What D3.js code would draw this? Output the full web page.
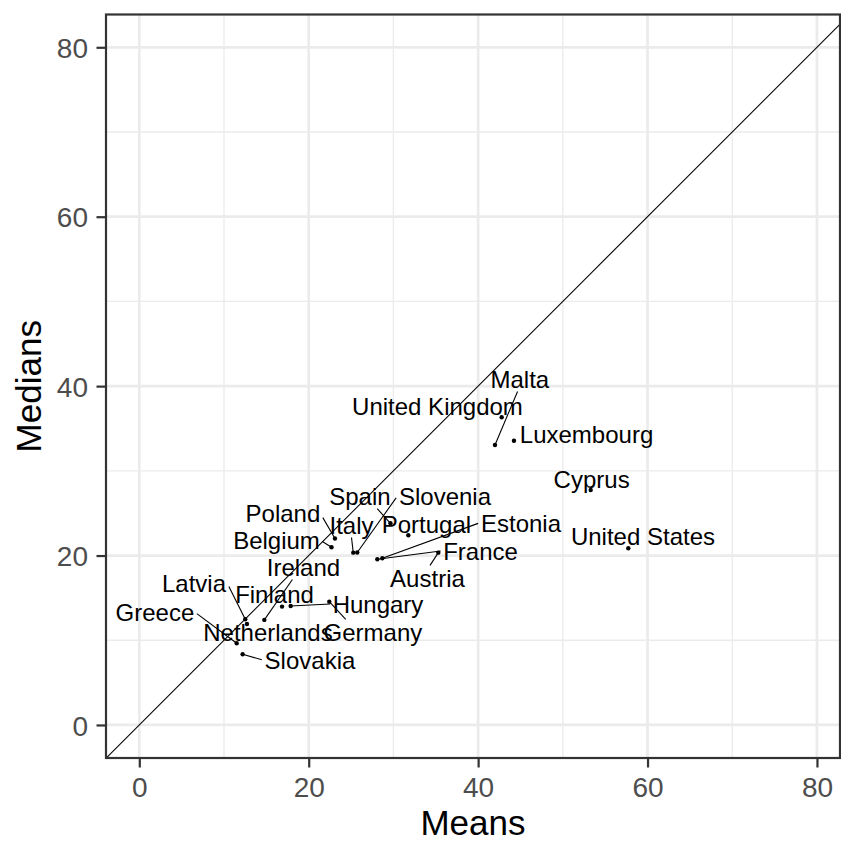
<!DOCTYPE html>
<html><head><meta charset="utf-8">
<script src="https://cdn.jsdelivr.net/npm/d3@7"></script>
<style>body{margin:0;background:#fff}</style>
</head><body><svg id="c" width="841" height="844"></svg>
<script>
// ---- data ----
const countries = ["Malta","United Kingdom","Luxembourg","Cyprus","United States","Spain","Slovenia","Italy","Poland","Belgium","Portugal","Estonia","France","Austria","Ireland","Latvia","Netherlands","Greece","Slovakia","Finland","Hungary","Germany"];
const means   = [41.99, 42.78, 44.23, 53.29, 57.73, 29.65, 25.73, 25.26, 23.10, 22.69, 31.76, 28.69, 28.10, 35.30, 14.76, 12.51, 12.71, 11.50, 12.20, 16.85, 17.87, 22.43];
const medians = [33.05, 36.32, 33.56, 27.74, 20.86, 23.81, 20.36, 20.34, 22.02, 20.98, 22.39, 19.68, 19.56, 20.34, 12.40, 12.48, 11.92,  9.64,  8.35, 13.97, 14.05, 14.56];
// repelled label anchor positions (data units)
const labelX  = [44.93, 35.20, 52.80, 53.40, 59.46, 26.05, 36.09, 25.05, 16.96, 16.20, 33.90, 45.06, 40.28, 34.02, 19.38,  6.46, 15.19,  1.85, 20.15, 15.96, 28.18, 27.58];
const labelY  = [40.85, 37.66, 34.35, 29.04, 22.30, 27.03, 27.03, 23.61, 25.03, 21.84, 23.73, 23.85, 20.54, 17.35, 18.65, 16.76, 10.98, 13.34,  7.67, 15.46, 14.28, 10.98];
const majorTicks = [0, 20, 40, 60, 80];
const minorTicks = [10, 30, 50, 70];
const xTitle = "Means", yTitle = "Medians";

// ---- layout ----
const svg = d3.select("#c");
const P = {l:106, r:840, t:14.5, b:758};
const x = d3.scaleLinear().domain([-3.93, 82.72]).range([P.l, P.r]);
const y = d3.scaleLinear().domain([-3.9, 83.87]).range([P.b, P.t]);
const font = "Arial, 'Liberation Sans', sans-serif";

svg.append("defs").append("clipPath").attr("id","pc")
  .append("rect").attr("x",P.l).attr("y",P.t).attr("width",P.r-P.l).attr("height",P.b-P.t);

const grid = svg.append("g");
minorTicks.forEach(v=>{
  grid.append("line").attr("x1",x(v)).attr("x2",x(v)).attr("y1",P.t).attr("y2",P.b).attr("stroke","#EBEBEB").attr("stroke-width",1.3);
  grid.append("line").attr("y1",y(v)).attr("y2",y(v)).attr("x1",P.l).attr("x2",P.r).attr("stroke","#EBEBEB").attr("stroke-width",1.3);
});
majorTicks.forEach(v=>{
  grid.append("line").attr("x1",x(v)).attr("x2",x(v)).attr("y1",P.t).attr("y2",P.b).attr("stroke","#EBEBEB").attr("stroke-width",2.7);
  grid.append("line").attr("y1",y(v)).attr("y2",y(v)).attr("x1",P.l).attr("x2",P.r).attr("stroke","#EBEBEB").attr("stroke-width",2.7);
});

// diagonal y = x
const dom = [-10, 100];
svg.append("line").attr("clip-path","url(#pc)")
  .attr("x1",x(dom[0])).attr("y1",y(dom[0])).attr("x2",x(dom[1])).attr("y2",y(dom[1]))
  .attr("stroke","#000").attr("stroke-width",1.1);

// axes
const xAxis = svg.append("g").attr("transform",`translate(0,${P.b})`)
  .call(d3.axisBottom(x).tickValues(majorTicks).tickSize(9.5).tickPadding(6));
const yAxis = svg.append("g").attr("transform",`translate(${P.l},0)`)
  .call(d3.axisLeft(y).tickValues(majorTicks).tickSize(9.5).tickPadding(6));
[xAxis,yAxis].forEach(a=>{
  a.select(".domain").remove();
  a.selectAll(".tick line").attr("stroke","#333333").attr("stroke-width",2.2);
  a.selectAll(".tick text").attr("fill","#4D4D4D").style("font-family",font).style("font-size","28px");
});
xAxis.selectAll(".tick text").attr("dy",null).attr("y",39);
yAxis.selectAll(".tick text").attr("dy","0.36em").attr("x",-18);

// panel border
svg.append("rect").attr("x",P.l).attr("y",P.t).attr("width",P.r-P.l).attr("height",P.b-P.t)
  .attr("fill","none").attr("stroke","#333333").attr("stroke-width",2.2);

// titles
svg.append("text").attr("x",(P.l+P.r)/2).attr("y",835).attr("text-anchor","middle")
  .style("font-family",font).style("font-size","35px").attr("fill","#000").text(xTitle);
svg.append("text").attr("transform",`translate(40.5,${(P.t+P.b)/2}) rotate(-90)`).attr("text-anchor","middle")
  .style("font-family",font).style("font-size","35px").attr("fill","#000").text(yTitle);

// labels, segments, points
const fs = 24;
const data = countries.map((c,i)=>({c, mx:means[i], md:medians[i], lx:labelX[i], ly:labelY[i]}));
const segG = svg.append("g").attr("clip-path","url(#pc)");
const ptG = svg.append("g").attr("clip-path","url(#pc)");
const lbG = svg.append("g").attr("clip-path","url(#pc)");

const labels = lbG.selectAll("text").data(data).join("text")
  .attr("x",d=>x(d.lx)).attr("y",d=>y(d.ly)).attr("dy","0.36em").attr("text-anchor","middle")
  .style("font-family",font).style("font-size",fs+"px").attr("fill","#000").text(d=>d.c);

// ggrepel-style connection point on label box
function connect(px, py, b){
  let ox, oy, left=false, right=false, top=false, bottom=false;
  if (px >= b.x1 && px <= b.x2) ox = px; else if (px > b.x2){ ox = b.x2; right = true; } else { ox = b.x1; left = true; }
  if (py >= b.y1 && py <= b.y2) oy = py; else if (py > b.y2){ oy = b.y2; bottom = true; } else { oy = b.y1; top = true; }
  const midx = (b.x1+b.x2)/2, midy = (b.y1+b.y2)/2;
  const d = Math.hypot(px-ox, py-oy);
  if ((top||bottom) && !(left||right)) {
    const alt = Math.hypot(px-midx, py-oy); if (alt>0) ox = ox + (midx-ox)*d/alt;
  } else if ((left||right) && !(top||bottom)) {
    const alt = Math.hypot(px-ox, py-midy); if (alt>0) oy = oy + (midy-oy)*d/alt;
  } else if ((left||right) && (top||bottom)) {
    const a1 = Math.hypot(px-midx, py-oy), a2 = Math.hypot(px-ox, py-midy);
    if (a1 < a2) ox = ox + (midx-ox)*d/a1; else oy = oy + (midy-oy)*d/a2;
  }
  return [ox, oy, d];
}

labels.each(function(d){
  const bb = this.getBBox();
  const cx = x(d.lx), cy = y(d.ly);
  const pad = 2.5;
  const b = {x1: cx-bb.width/2-pad, x2: cx+bb.width/2+pad, y1: cy-fs*0.42-pad, y2: cy+fs*0.42+pad};
  const px = x(d.mx), py = y(d.md);
  if (px>=b.x1 && px<=b.x2 && py>=b.y1 && py<=b.y2) return;
  const [ex, ey, len] = connect(px, py, b);
  if (len < 8) return;
  segG.append("line").attr("x1",px).attr("y1",py).attr("x2",ex).attr("y2",ey)
    .attr("stroke","#000").attr("stroke-width",1.1);
});

ptG.selectAll("circle").data(data).join("circle")
  .attr("cx",d=>x(d.mx)).attr("cy",d=>y(d.md)).attr("r",2.2).attr("fill","#000");
</script></body></html>
